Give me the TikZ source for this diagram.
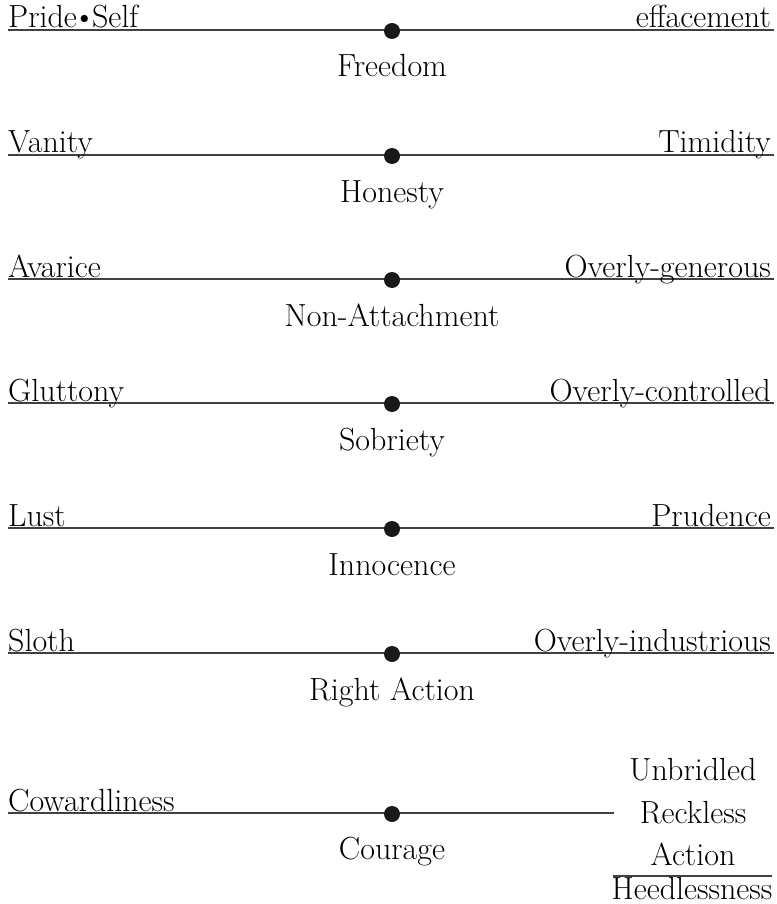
\documentclass[tikz,border=0pt]{standalone}
\usepackage{fontspec}
\begin{document}
\begin{tikzpicture}[x=1pt,y=-1pt,
  lbl/.style={inner sep=0pt,font=\fontsize{32}{38}\selectfont},
  wide/.style={lbl,font=\fontsize{32}{38}\selectfont\addfontfeature{LetterSpace=6.5}},
  dot/.style={circle,fill=black!90,inner sep=0pt,minimum size=16pt},
  axis/.style={line width=1.6pt,black!75}]
\useasboundingbox (0,0) rectangle (776,904);
\foreach \i/\y/\lt/\rt/\ct/\rs in {1/30/Pride\kern-4pt\textbullet\kern-4pt Self/effacement/Freedom/lbl,
  2/155/Vanity/Timidity/Honesty/lbl,
  3/279/Avarice/Overly-generous/Non-Attachment/wide,
  4/403/Gluttony/Overly-controlled/Sobriety/wide,
  5/528/Lust/Prudence/Innocence/lbl,
  6/653/Sloth/Overly-industrious/Right Action/wide}{
  \coordinate (a\i) at (8,\y);
  \coordinate (b\i) at (774,\y);
  \draw[axis] (a\i) -- (b\i);
  \node[dot] (d\i) at (392,\y+1) {};
  \node[lbl,anchor=base west] (l\i) at (8,\y-2) {\lt};
  \node[\rs,anchor=base east] (r\i) at (771,\y-2) {\rt};
  \node[lbl,anchor=base] (c\i) at (392,\y+47) {\ct};
}
% last row
\coordinate (a7) at (8,813);
\coordinate (b7) at (614,813);
\draw[axis] (a7) -- (b7);
\node[dot] (d7) at (392,814) {};
\node[lbl,anchor=base west] (l7) at (8,811) {Cowardliness};
\node[lbl,anchor=base] (c7) at (392,859) {Courage};
\node[lbl,anchor=base] (u7) at (693,780) {Unbridled};
\node[lbl,anchor=base] (k7) at (693,823) {Reckless};
\node[lbl,anchor=base] (x7) at (693,865) {Action};
\node[lbl,anchor=base] (h7) at (692,899) {Heedlessness};
\coordinate (p7) at (613,876);
\coordinate (q7) at (772,876);
\draw[axis] (p7) -- (q7);
\end{tikzpicture}
\end{document}
